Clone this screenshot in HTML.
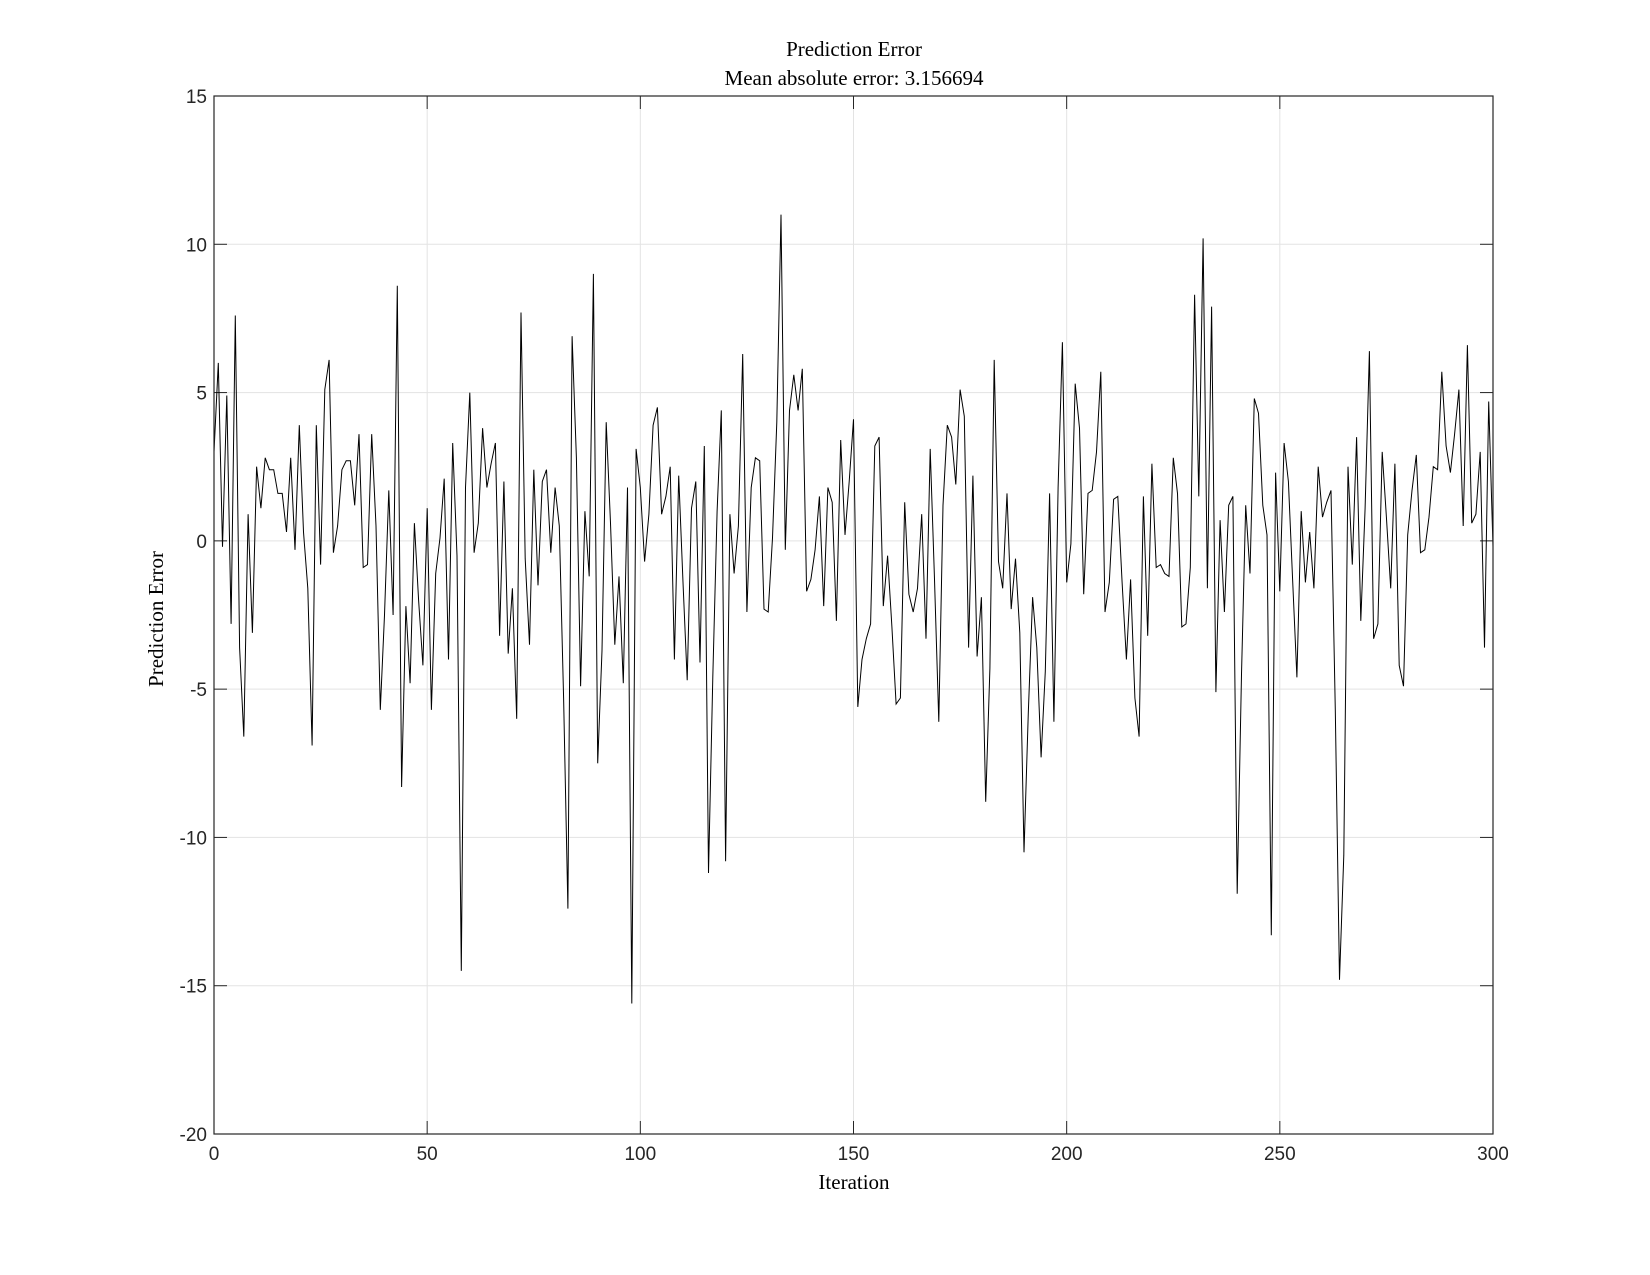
<!DOCTYPE html>
<html><head><meta charset="utf-8"><style>body{margin:0;background:#fff}svg{display:block}</style></head>
<body>
<svg id="s" width="1650" height="1275" xmlns="http://www.w3.org/2000/svg">
<rect width="1650" height="1275" fill="#fff"/>
<g id="grid" stroke="#e3e3e3" stroke-width="1"></g>
<g id="ticks" stroke="#262626" stroke-width="1"></g>
<polyline id="line" fill="none" stroke="#000" stroke-width="1"/>
<rect x="214" y="96" width="1279" height="1038" fill="none" stroke="#262626" stroke-width="1.2"/>
<g id="lab" font-family="Liberation Sans, sans-serif" font-size="19" fill="#262626"></g>
<g font-family="Liberation Serif, serif" font-size="21" fill="#000" text-anchor="middle">
<text x="854" y="56">Prediction Error</text>
<text x="854" y="85">Mean absolute error: 3.156694</text>
<text x="854" y="1189">Iteration</text>
<text transform="translate(163,619) rotate(-90)">Prediction Error</text>
</g>
</svg>
<script>
var d=[3,6.0,-0.2,4.9,-2.8,7.6,-3.6,-6.6,0.9,-3.1,2.5,1.1,2.8,2.4,2.4,1.6,1.6,0.3,2.8,-0.3,3.9,0.3,-1.6,-6.9,3.9,-0.8,5.1,6.1,-0.4,0.5,2.4,2.7,2.7,1.2,3.6,-0.9,-0.8,3.6,0.5,-5.7,-2.5,1.7,-2.5,8.6,-8.3,-2.2,-4.8,0.6,-2.0,-4.2,1.1,-5.7,-1.1,0.1,2.1,-4.0,3.3,-0.5,-14.5,1.8,5.0,-0.4,0.6,3.8,1.8,2.6,3.3,-3.2,2.0,-3.8,-1.6,-6.0,7.7,-0.6,-3.5,2.4,-1.5,2.0,2.4,-0.4,1.8,0.5,-5.3,-12.4,6.9,2.8,-4.9,1.0,-1.2,9.0,-7.5,-3.7,4.0,0.6,-3.5,-1.2,-4.8,1.8,-15.6,3.1,1.8,-0.7,0.9,3.9,4.5,0.9,1.5,2.5,-4.0,2.2,-1.4,-4.7,1.1,2.0,-4.1,3.2,-11.2,-4.6,1.0,4.4,-10.8,0.9,-1.1,0.5,6.3,-2.4,1.8,2.8,2.7,-2.3,-2.4,0.1,4.0,11.0,-0.3,4.4,5.6,4.4,5.8,-1.7,-1.3,-0.3,1.5,-2.2,1.8,1.3,-2.7,3.4,0.2,2.0,4.1,-5.6,-4.0,-3.3,-2.8,3.2,3.5,-2.2,-0.5,-2.9,-5.5,-5.3,1.3,-1.8,-2.4,-1.6,0.9,-3.3,3.1,-1.3,-6.1,1.2,3.9,3.5,1.9,5.1,4.2,-3.6,2.2,-3.9,-1.9,-8.8,-4.3,6.1,-0.7,-1.6,1.6,-2.3,-0.6,-3.1,-10.5,-5.8,-1.9,-3.6,-7.3,-4.4,1.6,-6.1,1.8,6.7,-1.4,-0.1,5.3,3.8,-1.8,1.6,1.7,3.0,5.7,-2.4,-1.4,1.4,1.5,-1.4,-4.0,-1.3,-5.3,-6.6,1.5,-3.2,2.6,-0.9,-0.8,-1.1,-1.2,2.8,1.6,-2.9,-2.8,-0.9,8.3,1.5,10.2,-1.6,7.9,-5.1,0.7,-2.4,1.2,1.5,-11.9,-4.5,1.2,-1.1,4.8,4.3,1.2,0.2,-13.3,2.3,-1.7,3.3,2.0,-1.3,-4.6,1.0,-1.4,0.3,-1.6,2.5,0.8,1.3,1.7,-5.7,-14.8,-10.6,2.5,-0.8,3.5,-2.7,1.1,6.4,-3.3,-2.8,3.0,0.8,-1.6,2.6,-4.2,-4.9,0.2,1.7,2.9,-0.4,-0.3,0.8,2.5,2.4,5.7,3.2,2.3,3.6,5.1,0.5,6.6,0.6,0.9,3.0,-3.6,4.7,-0.2,2.2];
var X=function(i){return 214+i*1279/300},Y=function(v){return 96+(15-v)*1038/35};
var p=[];for(var i=0;i<=300&&i<d.length;i++)p.push(X(i).toFixed(1)+","+Y(d[i]).toFixed(1));
document.getElementById('line').setAttribute('points',p.join(' '));
var ns="http://www.w3.org/2000/svg",g=document.getElementById('grid'),t=document.getElementById('ticks'),l=document.getElementById('lab');
function ln(par,a,b,c,e){var q=document.createElementNS(ns,'line');q.setAttribute('x1',a);q.setAttribute('y1',b);q.setAttribute('x2',c);q.setAttribute('y2',e);par.appendChild(q)}
function tx(x,y,s,anc){var q=document.createElementNS(ns,'text');q.setAttribute('x',x);q.setAttribute('y',y);q.setAttribute('text-anchor',anc);q.textContent=s;l.appendChild(q)}
for(var k=0;k<=300;k+=50){var x=X(k);if(k>0&&k<300)ln(g,x,96,x,1134);ln(t,x,1134,x,1121);ln(t,x,96,x,109);tx(x,1166-6,k,'middle')}
for(var v=-20;v<=15;v+=5){var y=Y(v);if(v>-20&&v<15)ln(g,214,y,1493,y);ln(t,214,y,227,y);ln(t,1493,y,1480,y);tx(207,y+7,v,'end')}
</script>
</body></html>
